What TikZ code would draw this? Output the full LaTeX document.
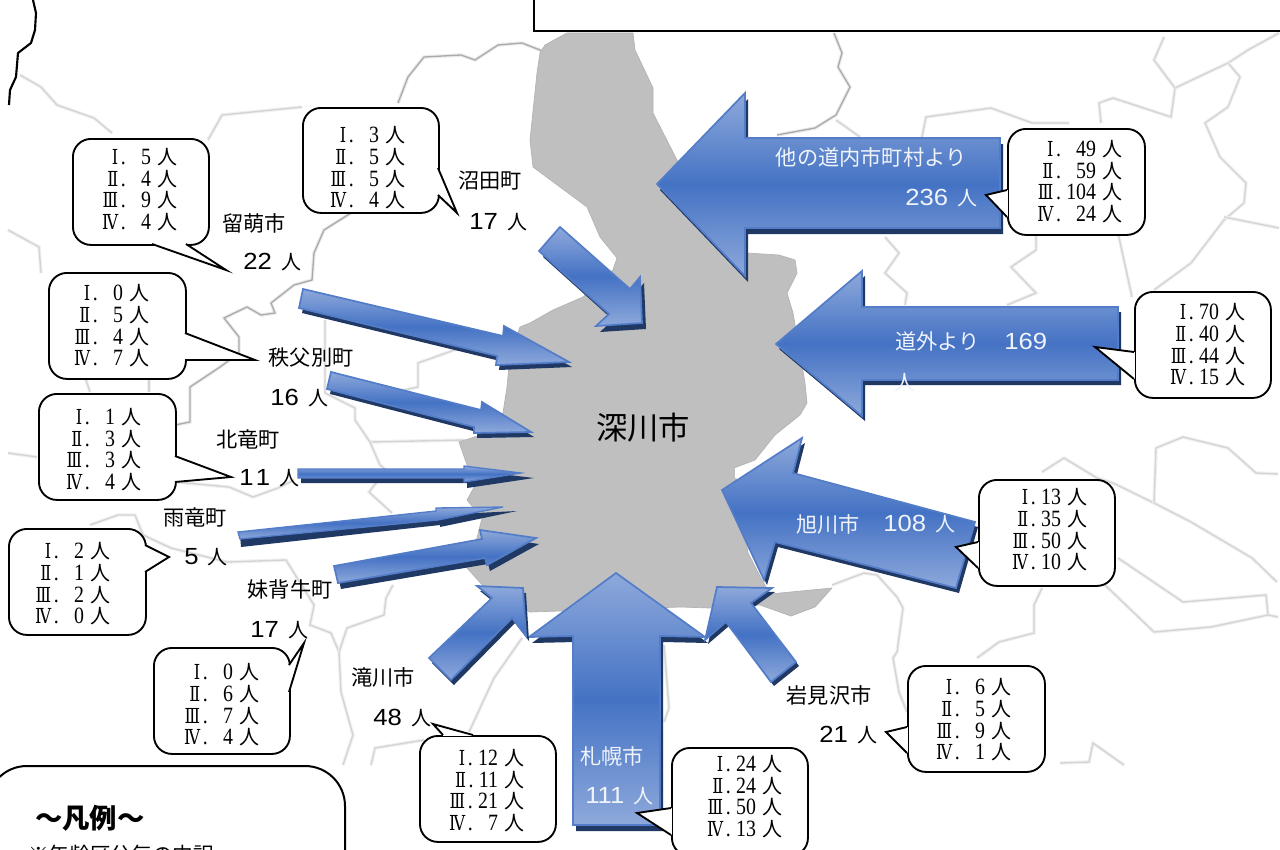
\documentclass[tikz,border=0pt]{standalone}
\usepackage{fontspec}
\setmainfont[FakeStretch=1.1]{Liberation Sans}
\newfontfamily\cjk{Noto Sans CJK JP}
\newfontfamily\ser[FakeStretch=0.85]{Liberation Serif}
\newfontfamily\rom[FakeStretch=0.78]{DejaVu Serif}
\definecolor{arrowlight}{HTML}{8EA9DB}
\definecolor{arrowmid}{HTML}{4472C4}
\definecolor{arrowdark}{HTML}{1F3864}
\definecolor{cityfill}{HTML}{BFBFBF}
\tikzset{
  mapline/.style={preaction={draw=black!6,line width=2.6pt},draw=black!17,line width=1pt,line join=round},
  mapdark/.style={preaction={draw=black!8,line width=2.6pt},draw=black!33,line width=1pt,line join=round},
  arrowshadow/.style={fill=arrowdark},
  arrowbody/.style={draw=arrowmid!92!white,line width=1.3pt,line join=miter,top color=arrowlight,bottom color=arrowlight,middle color=arrowmid},
  callbox/.style={draw=black,fill=white,line width=1.4pt,rounded corners=13.5pt,inner sep=0pt},
  calltail/.style={draw=black,line width=1.4pt,line join=miter},
  calltext/.style={anchor=east,align=right,inner sep=0pt,font=\ser\fontsize{17.5pt}{16.3pt}\selectfont},
  lab/.style={font=\cjk\fontsize{15.9pt}{18pt}\selectfont,inner sep=0pt},
  cnt/.style={font=\fontsize{17.5pt}{20pt}\selectfont,inner sep=0pt,anchor=west},
  wlab/.style={lab,text=white!92!arrowmid},
  wcnt/.style={cnt,text=white!92!arrowmid},
}
\newcommand{\blockarrow}[3]{%
  \fill[arrowshadow,shift={(#1,#2)}] #3 -- cycle;
  \path[arrowbody] #3 -- cycle;}
% name, x1, y1, x2, y2, base a, base b, tip, text anchor, text lines
\newcommand{\callout}[9]{%
  \node[callbox,minimum width={(#4-#2)*0.75pt},minimum height={(#5-#3)*0.75pt},anchor=north west] (#1) at (#2,#3) {};
  \fill[white] #6 -- #8 -- #7 -- cycle;
  \draw[white,line width=1.8pt] #6 -- #7;
  \draw[calltail] #6 -- #8 -- #7;
  \coordinate (#1R) at (#9);
  \calltextnode{#1}}
\newcommand{\calltextnode}[2]{\node[calltext] (#1T) at (#1R) {#2};}
\newcommand{\row}[3]{{\rom\fontsize{15.5pt}{16pt}\selectfont #1}\hspace{2pt}.\hspace{4pt}#2#3\hspace{5pt}{\cjk\fontsize{15pt}{16pt}\selectfont 人}}
\newcommand{\pd}{\phantom{0}}
\newcommand{\cnum}[1]{#1\hspace{7pt}{\cjk\fontsize{15pt}{18pt}\selectfont 人}}
\begin{document}
\begin{tikzpicture}[x=0.75pt,y=-0.75pt]
\useasboundingbox (0,0) rectangle (1280,849);
\clip (0,0) rectangle (1280,849);
\fill[white] (0,0) rectangle (1280,849);
% map boundaries
\draw[black,line width=1.6pt,line join=round] (33,0)--(36,13)--(35,30)--(31,43)--(18,53)--(16,77)--(10,90)--(9,105);
\draw[mapline] (20,75)--(41,87)--(57,105)--(94,118)--(112,133);
\draw[mapline] (208,140)--(222,115)--(302,107);
\draw[mapdark] (398,103)--(408,77)--(424,57)--(461,55)--(475,60)--(498,45)--(522,43)--(545,52);
\draw[mapdark] (351,213)--(324,230)--(314,253)--(312,280)--(294,285)--(271,303)--(275,313)--(261,315)--(247,307)--(224,318)--(239,337)--(239,353)--(220,367)--(190,387)--(190,422)--(175,425);
\draw[mapline] (8,230)--(39,247)--(41,273);
\draw[mapline] (325,320)--(325,393)--(355,408)--(355,420)--(370,442)--(465,440);
\draw[mapline] (370,442)--(380,465)--(386,470)--(369,492)--(392,513);
\draw[mapline] (463,347)--(418,363)--(418,387)--(395,392)--(375,400);
\draw[mapline] (86,380)--(90,392);
\draw[mapline] (149,380)--(149,392);
\draw[mapline] (8,453)--(37,457);
\draw[mapline] (175,482)--(229,487)--(253,497)--(278,488)--(294,480);
\draw[mapline] (90,525)--(118,515)--(135,515)--(143,535)--(171,548)--(227,562)--(286,560)--(314,605)--(310,625)--(331,633)--(339,652)--(341,692)--(353,735)--(343,765);
\draw[mapline] (339,652)--(347,628)--(384,615)--(386,598)--(393,585);
\draw[mapline] (371,765)--(375,748)--(424,740);
\draw[mapline] (469,732)--(494,678)--(522,638);
\draw[mapline] (664,645)--(669,708)--(664,722);
\draw[mapdark] (834,33)--(842,53)--(838,67)--(850,87)--(836,115)--(815,128)--(777,135);
\draw[mapline] (836,120)--(860,137);
\draw[mapline] (922,137)--(926,117)--(991,108)--(1032,123)--(1069,123);
\draw[mapline] (1101,123)--(1099,103)--(1113,98)--(1171,117)--(1175,88)--(1154,60)--(1164,37);
\draw[mapline] (1175,88)--(1228,63)--(1248,50)--(1279,33);
\draw[mapline] (1228,63)--(1240,77)--(1228,107)--(1205,123)--(1220,157)--(1246,183)--(1244,203)--(1224,220)--(1191,263)--(1154,290);
\draw[mapline] (1224,217)--(1279,228);
\draw[mapline] (1118,233)--(1132,297);
\draw[mapline] (885,237)--(899,253)--(885,273)--(907,293)--(905,305);
\draw[mapline] (1036,235)--(1036,250)--(1011,267)--(1036,293)--(1007,305);
\draw[mapline] (1042,472)--(1064,458)--(1097,478)--(1113,483)--(1154,503)--(1191,522)--(1252,558)--(1277,582);
\draw[mapline] (1154,503)--(1156,448)--(1183,437)--(1228,448)--(1256,473)--(1278,474);
\draw[mapline] (1118,558)--(1183,602)--(1266,595)--(1268,615)--(1278,617);
\draw[mapline] (1105,585)--(1154,632)--(1211,627)--(1268,615);
\draw[mapline] (1042,588)--(1034,605)--(1034,633)--(999,642)--(977,658);
\draw[mapline] (832,585)--(864,573)--(877,575)--(897,597)--(903,608)--(897,652)--(893,658)--(899,692)--(907,712);
\draw[mapline] (1060,763)--(1089,762)--(1093,743)--(1124,765);
% Fukagawa city
\fill[cityfill,draw=black!30,line width=0.5pt,line join=round] (567,33)--(545,45)--(540,53)--(537,73)--(530,140)--(533,167)--(587,207)--(600,237)--(617,258)--(613,270)--(583,297)--(553,310)--(530,323)--(520,327)--(510,355)--(507,387)--(503,413)--(490,432)--(459,442)--(467,465)--(477,482)--(467,500)--(482,518)--(477,538)--(467,568)--(494,598)--(530,612)--(681,607)--(709,608)--(760,605)--(791,616)--(815,607)--(832,588)--(770,594)--(762,580)--(748,553)--(736,478)--(734,468)--(755,460)--(775,435)--(800,415)--(807,403)--(805,383)--(793,313)--(787,293)--(797,273)--(795,260)--(779,255)--(746,253)--(677,160)--(653,113)--(653,88)--(635,50)--(633,33)--cycle;
\fill[white] (735,468) rectangle (752,478);
% arrows
\blockarrow{3}{6}{(657,184)--(745,93)--(745,138)--(1000,138)--(1000,228)--(745,228)--(745,276)}
\blockarrow{3}{5}{(776,344)--(862,271)--(862,307)--(1118,307)--(1118,380)--(862,380)--(862,416)}
\blockarrow{3}{5}{(722,490)--(802,438)--(793,473)--(975,522)--(956,588)--(775,542)--(764,580)}
\blockarrow{3}{6}{(616,573)--(705,637)--(660,636)--(660,825)--(573,825)--(573,636)--(529,637)}
\blockarrow{3}{4}{(717,587)--(772,588)--(751,603)--(796,662)--(771,682)--(726,622)--(705,640)}
\blockarrow{3}{5}{(523,588)--(526,636)--(512,618)--(451,680)--(429,658)--(492,598)--(477,586)}
\blockarrow{4}{6}{(560,227)--(630,289)--(640,277)--(642,323)--(596,326)--(609,314)--(539,251)}
\blockarrow{3}{5}{(303,289)--(503,336)--(504,326)--(569,362)--(496,365)--(497,356)--(299,308)}
\blockarrow{3}{5}{(331,372)--(481,410)--(482,402)--(531,432)--(474,433)--(474,427)--(327,389)}
\fill[arrowdark] (301,472)--(301,483)--(467,483)--(467,488)--(534,478)--(467,470)--cycle;
\path[arrowbody,line width=1pt] (298,469)--(464,469)--(464,466)--(521,473)--(464,482)--(464,478)--(298,478)--cycle;
\fill[arrowdark] (240,535)--(241,547)--(440,525)--(440,527)--(517,511)--(436,515)--cycle;
\path[arrowbody,line width=1pt] (238,532)--(436,511)--(436,508)--(503,507)--(438,520)--(240,539)--cycle;
\blockarrow{3}{6}{(334,566)--(482,539)--(480,530)--(536,538)--(487,565)--(485,558)--(338,583)}
% callouts
\callout{cA}{72}{138}{208}{244}{(152,244)}{(186,244)}{(226,270)}{178,189.5}{\row{Ⅰ}{\pd}{5}\\\row{Ⅱ}{\pd}{4}\\\row{Ⅲ}{\pd}{9}\\\row{Ⅳ}{\pd}{4}}
\callout{cB}{302}{107}{438}{212}{(438,168)}{(438,195)}{(457,213)}{406,168}{\row{Ⅰ}{\pd}{3}\\\row{Ⅱ}{\pd}{5}\\\row{Ⅲ}{\pd}{5}\\\row{Ⅳ}{\pd}{4}}
\callout{cC}{48}{272}{185}{378}{(185,333)}{(185,360)}{(255,360)}{150,326}{\row{Ⅰ}{\pd}{0}\\\row{Ⅱ}{\pd}{5}\\\row{Ⅲ}{\pd}{4}\\\row{Ⅳ}{\pd}{7}}
\callout{cD}{38}{393}{175}{499}{(175,456)}{(175,482)}{(231,477)}{142,449.5}{\row{Ⅰ}{\pd}{1}\\\row{Ⅱ}{\pd}{3}\\\row{Ⅲ}{\pd}{3}\\\row{Ⅳ}{\pd}{4}}
\callout{cE}{8}{528}{145}{634}{(145,545)}{(145,572)}{(169,557)}{111,584}{\row{Ⅰ}{\pd}{2}\\\row{Ⅱ}{\pd}{1}\\\row{Ⅲ}{\pd}{2}\\\row{Ⅳ}{\pd}{0}}
\callout{cF}{153}{647}{289}{753}{(289,665)}{(289,692)}{(304,643)}{260,705}{\row{Ⅰ}{\pd}{0}\\\row{Ⅱ}{\pd}{6}\\\row{Ⅲ}{\pd}{7}\\\row{Ⅳ}{\pd}{4}}
\callout{cG}{419}{735}{555}{841}{(443,735)}{(473,735)}{(433,724)}{525,790.5}{\row{Ⅰ}{}{12}\\\row{Ⅱ}{}{11}\\\row{Ⅲ}{}{21}\\\row{Ⅳ}{\pd}{7}}
\callout{cH}{671}{747}{807}{855}{(671,808)}{(671,835)}{(637,813)}{783,796.5}{\row{Ⅰ}{}{24}\\\row{Ⅱ}{}{24}\\\row{Ⅲ}{}{50}\\\row{Ⅳ}{}{13}}
\callout{cI}{907}{665}{1044}{771}{(907,727)}{(907,753)}{(886,732)}{1012,720}{\row{Ⅰ}{\pd}{6}\\\row{Ⅱ}{\pd}{5}\\\row{Ⅲ}{\pd}{9}\\\row{Ⅳ}{\pd}{1}}
\callout{cJ}{978}{479}{1114}{585}{(978,542)}{(978,568)}{(956,547)}{1088,530}{\row{Ⅰ}{}{13}\\\row{Ⅱ}{}{35}\\\row{Ⅲ}{}{50}\\\row{Ⅳ}{}{10}}
\callout{cK}{1007}{128}{1144}{234}{(1007,190)}{(1007,217)}{(986,195)}{1123,181.5}{\row{Ⅰ}{\pd}{49}\\\row{Ⅱ}{\pd}{59}\\\row{Ⅲ}{}{104}\\\row{Ⅳ}{\pd}{24}}
\callout{cL}{1134}{291}{1270}{397}{(1134,352)}{(1134,379)}{(1095,347)}{1246,345}{\row{Ⅰ}{}{70}\\\row{Ⅱ}{}{40}\\\row{Ⅲ}{}{44}\\\row{Ⅳ}{}{15}}
% labels
\node[lab] (nNumata) at (490,181) {沼田町};
\node[cnt] (vNumata) at (469,222) {\cnum{17}};
\node[lab] (nRumoi) at (254,223) {留萌市};
\node[cnt] (vRumoi) at (243,262) {\cnum{22}};
\node[lab] (nChichibu) at (311,358) {秩父別町};
\node[cnt] (vChichibu) at (270,398) {\cnum{16}};
\node[lab] (nHokuryu) at (248,439) {北竜町};
\node[cnt] (vHokuryu) at (239,478) {\cnum{1\hspace{0.1em}1}};
\node[lab] (nUryu) at (195,517) {雨竜町};
\node[cnt] (vUryu) at (184,557) {\cnum{5}};
\node[lab] (nMoseushi) at (290,589) {妹背牛町};
\node[cnt] (vMoseushi) at (250,630) {\cnum{17}};
\node[lab] (nTakikawa) at (383,677) {滝川市};
\node[cnt] (vTakikawa) at (373,718) {\cnum{48}};
\node[lab] (nIwamizawa) at (829,695) {岩見沢市};
\node[cnt] (vIwamizawa) at (819,735) {\cnum{21}};
\node[wlab] (nSapporo) at (612,756) {札幌市};
\node[wcnt] (vSapporo) at (585,796) {\cnum{111}};
\node[wlab] (nAsahikawa) at (828,524) {旭川市};
\node[wcnt] (vAsahikawa) at (883,524) {\cnum{108}};
\node[wlab] (nOther) at (871,157) {他の道内市町村より};
\node[wcnt] (vOther) at (905,198) {\cnum{236}};
\node[wlab,anchor=west] (nOut) at (895,341) {道外より};
\node[wcnt] (vOut) at (1004,341) {169};
\node[wlab] (vOutB) at (905,383) {人};
\node[font=\cjk\fontsize{23.5pt}{26pt}\selectfont,inner sep=0pt] (city) at (643,428) {深川市};
% top box
\node[draw=black,fill=white,line width=1.5pt,minimum width=600pt,minimum height=60pt,anchor=south west,inner sep=0pt] (topbox) at (532.5,32) {};
% legend
\node[draw=black,fill=white,line width=1.5pt,rounded corners=30pt,minimum width=268.5pt,minimum height=120pt,anchor=north east,inner sep=0pt] (legend) at (346,765) {};
\node[font=\cjk\bfseries\fontsize{20.5pt}{24pt}\selectfont,inner sep=0pt,anchor=west] (legendT) at (35,818) {～凡例～};
\node[font=\cjk\fontsize{15.5pt}{18pt}\selectfont,inner sep=0pt,anchor=west] (legendS) at (28,855) {※年齢区分毎の内訳};
\end{tikzpicture}
\end{document}
